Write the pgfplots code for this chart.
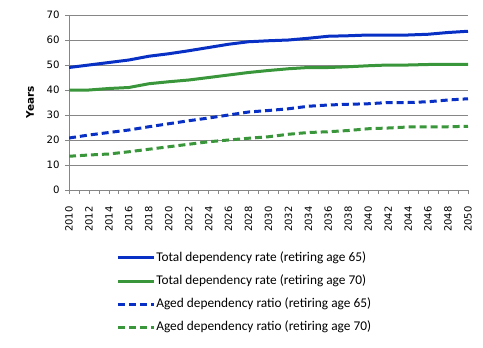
\documentclass[border=0pt]{standalone}
\usepackage{pgfplots}
\pgfplotsset{compat=1.18}
\usepackage{fontspec}
\setmainfont{DejaVu Sans}
\newfontfamily\legfont{Carlito}
\definecolor{cblue}{RGB}{8,48,196}
\definecolor{cgreen}{RGB}{58,150,58}
\definecolor{gridgray}{RGB}{134,134,134}
\pgfplotstableread{
year t65 t70 a65 a70
2010 49.0 40.0 20.8 13.5
2012 50.0 40.0 22.0 14.0
2014 51.0 40.6 23.0 14.4
2016 52.0 41.0 24.0 15.3
2018 53.5 42.5 25.3 16.3
2020 54.5 43.3 26.5 17.3
2022 55.7 44.0 27.7 18.3
2024 57.0 45.0 28.8 19.3
2026 58.3 46.0 30.0 20.0
2028 59.3 47.0 31.2 20.7
2030 59.7 47.8 31.8 21.3
2032 60.0 48.5 32.5 22.3
2034 60.7 49.0 33.5 23.0
2036 61.5 49.0 34.0 23.3
2038 61.7 49.3 34.3 23.8
2040 62.0 49.7 34.5 24.5
2042 62.0 50.0 35.0 24.8
2044 62.0 50.0 35.0 25.2
2046 62.3 50.2 35.3 25.3
2048 63.0 50.3 36.0 25.3
2050 63.5 50.3 36.5 25.5
}\datatable
\begin{document}
\begin{tikzpicture}
\begin{axis}[
  at={(0,0)}, anchor=south west,
  scale only axis,
  width=399bp, height=175bp,
  xmin=2010, xmax=2050, ymin=0, ymax=70,
  xtick={2010,2012,...,2050},
  minor xtick={2010,2011,...,2050},
  ytick={0,10,...,70},
  axis lines*=left,
  axis line style={gridgray, line width=0.8bp},
  ymajorgrids, grid style={gridgray, line width=0.8bp},
  tick style={gridgray, line width=0.8bp},
  major tick length=4bp, minor tick length=4bp,
  xtick pos=bottom, ytick pos=left,
  tick align=outside,
  xminorgrids=false,
  x tick label style={rotate=90, anchor=east, font=\fontsize{10}{11}\selectfont},
  xticklabel shift=9bp,
  y tick label style={font=\fontsize{10.2}{11}\selectfont},
  yticklabel shift=2bp,
  /pgf/number format/assume math mode=true,
  xticklabel={\pgfmathprintnumber[1000 sep={}]{\tick}},
  yticklabel style={/pgf/number format/1000 sep={}},
  ylabel={\textbf{Years}},
  ylabel style={font=\fontsize{10.5}{11}\selectfont, at={(axis description cs:-0.0977,0.5)}, anchor=center},
  legend style={draw=none, fill=none, inner sep=0pt, at={(rel axis cs:0.118,-0.345)}, anchor=north west,
    font=\legfont\fontsize{13.4}{15}\selectfont, row sep=8.8bp,
    nodes={text height=9.5bp, text depth=3bp, inner sep=1bp}},
  legend cell align=left,
  legend image code/.code={\draw[#1] (0bp,0bp) -- (36bp,0bp);},
  every axis plot/.append style={line width=3bp, line join=round},
]
\addplot[cblue, no markers] table[x=year, y=t65] {\datatable};
\addlegendentry{Total dependency rate (retiring age 65)}
\addplot[cgreen, no markers] table[x=year, y=t70] {\datatable};
\addlegendentry{Total dependency rate (retiring age 70)}
\addplot[cblue, no markers, dash pattern=on 7bp off 4bp] table[x=year, y=a65] {\datatable};
\addlegendentry{Aged dependency ratio (retiring age 65)}
\addplot[cgreen, no markers, dash pattern=on 7bp off 4bp] table[x=year, y=a70] {\datatable};
\addlegendentry{Aged dependency ratio (retiring age 70)}
\end{axis}
\pgfresetboundingbox
\path (-69bp,-158bp) rectangle (414bp,190bp);
\end{tikzpicture}
\end{document}
